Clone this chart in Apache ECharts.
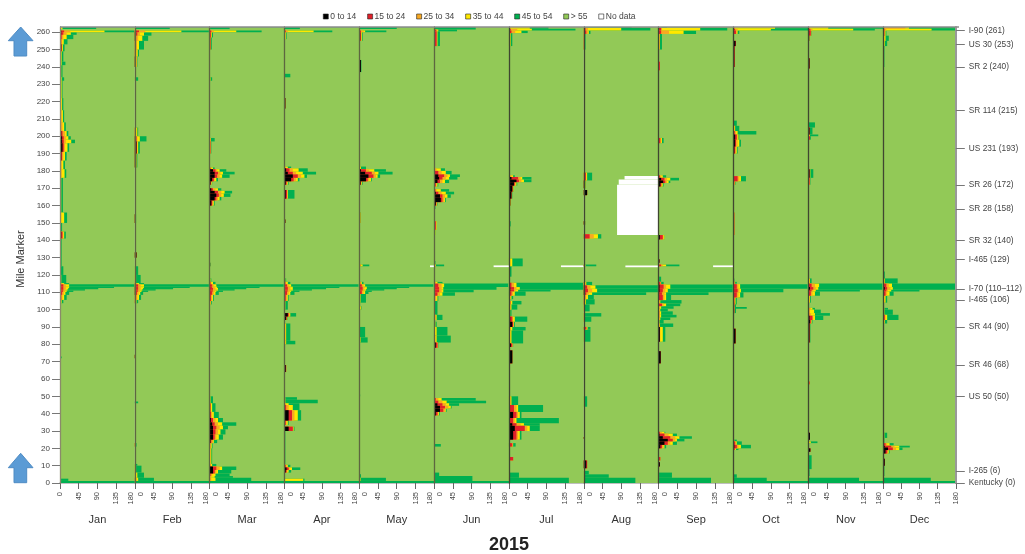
<!DOCTYPE html>
<html>
<head>
<meta charset="utf-8">
<title>Mile marker speed profile 2015</title>
<script src="https://cdn.jsdelivr.net/npm/echarts@6/dist/echarts.min.js"></script>
<style>html,body{margin:0;padding:0;background:#fff}#main{width:1025px;height:554px}</style>
</head>
<body>
<div id="main"></div>
<script>
var monthNames = ['Jan','Feb','Mar','Apr','May','Jun','Jul','Aug','Sep','Oct','Nov','Dec'];
var bandNames = ['0 to 14','15 to 24','25 to 34','35 to 44','45 to 54','> 55','No data'];
var bandColors = ['#000000','#e0202a','#f7a823','#ffe800','#00b050','#92c957','#ffffff'];
var mileTicks = [0,10,20,30,40,50,60,70,80,90,100,110,120,130,140,150,160,170,180,190,200,210,220,230,240,250,260];
var hourTicks = [0,45,90,135,180];
var roadMiles = [261,253,240,215,193,172,158,140,129,112,105.5,90,68,50,7,0];
var roadLabels = ['I-90 (261)','US 30 (253)','SR 2 (240)','SR 114 (215)','US 231 (193)','SR 26 (172)','SR 28 (158)','SR 32 (140)','I-465 (129)','I-70 (110–112)','I-465 (106)','SR 44 (90)','SR 46 (68)','US 50 (50)','I-265 (6)','Kentucky (0)'];
var mileTop = 263, hourMax = 180;

// each row: mile from, mile to, then how far each speed band reaches: black, red, orange, yellow, dark green
var jan = [[261.8,263,0,0,2,6,87],[262.8,263,0,0,0,0,178],[260,261,3,10,25,107,178],[258.5,260,3,8,16,26,40],[256,258.5,1,4,8,16,32],[253,256,1,3,5,9,18],[249,253,3,4,5,7,11],[243,249,0,1,2,4,8],[241,243,0,1,2,4,13],[234,241,0,1,2,3,6],[232,234,0,1,2,4,10],[222,232,0,1,2,4,6],[215,222,0,1,3,5,8],[208,215,0,1,4,7,10],[203,208,0,2,6,10,14],[200,203,3,6,12,16,20],[198,200,5,9,14,20,26],[196,198,5,9,14,27,36],[191,196,6,9,12,18,22],[186,191,3,5,8,12,16],[181,186,0,2,4,8,12],[176,181,0,1,4,11,15],[156,176,0,0,1,3,7],[150,156,0,1,3,10,17],[145,150,0,0,1,2,5],[141,145,3,6,8,10,14],[125,141,0,0,0,1,4],[120,125,0,0,0,2,8],[115.3,120,0,0,1,3,15],[114.6,115.3,0,2,5,10,22],[113.2,114.6,1,8,14,22,178],[112.5,113.2,1,8,14,22,130],[111.8,112.5,1,8,14,20,92],[111,111.8,1,8,13,18,60],[110.2,111,1,7,12,16,32],[108.5,110.2,1,5,9,13,22],[105.6,108.5,0,3,6,10,16],[103.7,105.6,0,1,2,4,8],[72,73,0,0,0,0,4],[1.2,2.5,0,0,0,0,20],[0,1.2,0,0,0,0,180]];
var feb = [[261.8,263,0,0,0,2,84],[262.8,263,0,0,0,0,178],[260,261,3,10,25,112,178],[258,260,2,6,12,22,40],[255,258,1,3,8,18,32],[250,255,0,1,5,10,22],[246,250,0,2,4,7,10],[240,246,2,3,4,5,6],[232,234,0,0,0,1,8],[200,205,0,1,3,6,8],[197,200,2,4,6,12,28],[190,197,4,5,6,8,12],[182,190,3,3,3,4,6],[150,155,1,1,1,2,3],[130,133,4,4,4,4,5],[120,125,0,0,0,1,8],[115.3,120,0,0,1,3,14],[114.6,115.3,0,2,5,10,22],[113.2,114.6,1,8,14,22,178],[112.5,113.2,1,8,14,22,132],[111.8,112.5,1,8,14,20,92],[111,111.8,1,8,13,18,50],[110.2,111,1,7,12,16,32],[108.5,110.2,1,5,9,13,20],[105.6,108.5,0,3,6,10,15],[103.7,105.6,0,1,2,4,8],[72,74,1,1,1,1,2],[46,47,0,0,0,0,8],[21,23,0,1,1,1,4],[10,11,0,0,0,1,6],[6,10,0,0,1,3,16],[3,6,0,0,2,6,22],[1.2,3,0,2,4,8,46],[0,1.2,0,0,0,0,180]];
var mar = [[261.8,263,0,0,0,1,48],[262.8,263,0,0,0,0,178],[260,261,0,4,10,64,125],[257,260,0,3,4,5,8],[250,257,1,2,2,3,5],[232,234,0,0,1,2,6],[197,199,0,1,2,3,12],[190,197,0,2,2,3,4],[181,182,0,2,4,8,12],[179.5,181,8,14,18,24,40],[178,179.5,12,20,26,32,60],[176,178,12,18,24,30,48],[174,176,6,10,12,16,20],[172,174,2,3,4,5,6],[168.5,170,4,8,14,20,28],[167,168.5,12,20,28,36,54],[165,167,16,22,28,34,50],[163,165,12,16,20,24,28],[160,163,4,6,8,10,12],[125,127,1,1,1,1,2],[116,118,0,0,1,2,4],[114.6,116,0,2,4,8,14],[113.2,114.6,1,6,10,16,178],[112.5,113.2,1,6,12,18,120],[111.8,112.5,1,8,14,20,88],[111,111.8,1,8,14,20,60],[110.2,111,1,7,12,16,32],[108.5,110.2,1,6,10,14,22],[105,108.5,0,3,6,8,10],[103,105,0,1,2,3,5],[46,50,0,0,0,2,8],[41,46,1,2,3,6,14],[37.5,41,1,3,6,10,22],[35,37.5,3,8,14,20,32],[33,35,6,12,20,30,64],[31,33,8,16,24,32,44],[28,31,8,14,20,26,38],[25,28,8,12,16,22,32],[23,25,2,4,8,10,18],[20,23,0,1,3,5,7],[11,20,0,0,2,4,6],[9.5,11,0,1,3,6,16],[7.5,9.5,8,16,24,30,64],[5.5,7.5,8,12,16,20,52],[4,5.5,0,2,6,14,48],[3,4,0,0,4,12,56],[1.2,3,0,0,4,14,100],[0,1.2,0,0,0,0,180]];
var apr = [[261.8,263,0,0,0,1,37],[262.8,263,0,0,0,0,178],[260,261,0,3,8,70,115],[256,260,0,1,2,3,5],[234,236,0,0,0,0,14],[216,222,2,2,2,2,3],[181.5,182.5,0,1,3,8,16],[179.5,181.5,4,12,20,34,56],[178,179.5,8,20,28,44,76],[176,178,20,32,40,48,54],[174,176,16,22,28,32,36],[172,174,3,5,6,8,10],[164,169,3,6,7,8,24],[150,152,2,2,2,2,3],[116,118,0,0,1,2,4],[114.6,116,0,2,4,8,14],[113.2,114.6,1,6,10,16,178],[112.5,113.2,1,8,14,20,132],[111.8,112.5,1,8,14,20,100],[111,111.8,1,8,14,20,66],[110.2,111,1,7,12,16,36],[108.5,110.2,1,6,10,14,24],[105,108.5,0,3,6,8,10],[100,105,0,0,1,2,8],[96,98,8,10,12,14,28],[94,96,4,5,6,7,8],[82,92,0,0,2,4,14],[80,82,0,1,2,4,26],[64,68,3,4,4,4,4],[48,49.5,0,0,0,2,30],[46,48,0,0,0,2,80],[45,46,0,1,4,10,36],[42,45,0,4,10,20,36],[36,42,10,18,24,32,40],[33.5,36,0,3,5,8,10],[30,32.5,10,20,21,22,24],[11,30,0,0,0,1,2],[9,10.5,0,3,5,8,14],[7.5,9,5,10,12,18,38],[6,7.5,3,5,7,10,16],[1.2,2.5,0,0,1,45,48],[0,1.2,0,0,0,0,180]];
var may = [[261.8,263,0,0,0,1,90],[262.8,263,0,0,0,0,178],[260,261,0,4,10,14,65],[255,260,2,4,5,6,8],[237,244,4,4,4,4,5],[181,182.5,0,1,2,4,16],[179.5,181,4,16,24,36,64],[178,179.5,14,30,38,46,80],[176,178,22,34,40,44,50],[174,176,16,20,24,28,30],[172,174,3,4,5,6,8],[150,156,0,2,2,3,4],[125,126,0,2,4,8,24],[114.6,116,0,2,4,6,10],[113.2,114.6,1,6,10,14,178],[112.5,113.2,1,8,14,18,120],[111.8,112.5,1,8,12,18,90],[111,111.8,1,8,12,16,60],[110.2,111,1,6,10,14,30],[109,110.2,1,6,10,14,22],[104,109,0,0,1,3,16],[100,102,0,1,2,4,5],[84,90,0,0,0,1,14],[81,84,0,1,2,3,20],[50,51,0,0,0,0,2],[3,5,0,0,0,1,4],[1.2,3,0,0,1,3,64],[0,1.2,0,0,0,0,180]];
var jun = [[261.5,263,0,0,0,1,100],[260.5,261.5,0,5,8,10,55],[252,260.5,1,6,7,8,14],[180,181.5,0,2,6,16,26],[178,180,2,10,18,28,42],[176.5,178,10,24,32,38,62],[175,176.5,12,20,28,36,56],[173,175,8,14,20,26,36],[171,173,2,4,6,8,10],[168,169.5,0,3,6,16,36],[166.5,168,4,10,18,28,48],[164.5,166.5,14,20,26,32,40],[162,164.5,16,20,24,26,28],[160,162,4,5,6,7,8],[158,160,1,1,2,2,3],[146,151,0,4,5,6,6],[143,146,0,1,2,3,3],[126,128,0,0,0,1,3],[125,126,0,2,3,4,24],[118,120,0,0,0,0,2],[115,116,0,2,4,8,20],[113,115,1,10,18,24,178],[111.5,113,2,12,18,22,150],[110,111.5,2,12,18,22,95],[108,110,1,8,14,20,50],[105,108,0,2,5,8,10],[97,105,0,0,1,2,8],[94,97,0,2,4,6,20],[90,93,0,1,2,3,6],[85,90,0,0,2,6,32],[81,85,0,1,3,6,40],[78,81,4,8,9,9,10],[47.5,49,0,4,10,18,100],[46,47.5,2,10,20,30,125],[44.5,46,8,20,28,36,60],[43,44.5,14,26,34,40,42],[41,43,14,22,26,28,30],[39,41,4,8,10,12,14],[21,22.5,0,0,0,2,16],[4,6,0,0,0,0,12],[1.2,4,0,0,0,1,92],[0,1.2,0,0,0,0,180]];
var jul = [[262,263,0,0,2,50,95],[261,262,0,4,20,55,160],[259.5,261,0,6,15,30,45],[252,259.5,0,2,3,4,8],[176.5,177.5,0,2,6,10,14],[175,176.5,6,22,28,32,54],[173.5,175,18,24,30,36,54],[171.5,173.5,12,14,16,18,20],[168,171.5,8,9,10,11,12],[164,168,6,6,7,7,8],[160,164,3,3,3,4,4],[148,151,0,0,1,2,4],[125,129.5,0,1,3,8,33],[119,125,0,0,0,1,6],[113,115.5,0,6,12,18,178],[111.5,113,3,12,18,26,178],[110.5,111.5,3,12,16,22,100],[108,110.5,1,6,10,14,40],[106,108,0,2,4,6,10],[103,105,0,3,5,8,30],[100,103,0,2,4,6,20],[96,100,0,0,1,3,6],[93,96,3,8,10,14,44],[90,93,8,10,11,12,14],[88,90,0,2,4,8,40],[80.5,88,0,2,3,6,34],[78.5,80.5,5,8,8,9,10],[69,76.5,8,8,8,8,9],[45,50,0,2,4,6,22],[41,45,0,12,18,22,82],[37.5,41,10,18,22,26,30],[34.5,37.5,0,10,14,18,120],[33,34.5,8,18,28,36,74],[30,33,14,38,44,50,74],[25,30,10,18,22,26,30],[21,23,2,8,9,10,16],[13,15,0,10,10,10,10],[3,6,0,0,0,1,24],[0,3,0,0,0,1,144]];
var aug = [[262.5,263,0,0,0,1,115],[261,262.5,0,4,10,90,160],[259,261,0,6,10,12,16],[250,259,0,1,1,1,4],[174.5,179,0,5,6,8,20],[170,174.5,1,3,3,4,5],[166,169,8,8,8,8,8],[149,151,3,3,3,3,3],[141,143.5,0,14,24,34,42],[125,126,0,2,3,4,30],[114,116,0,2,4,6,20],[112,114,2,8,16,28,178],[110,112,2,10,20,32,178],[108.5,110,1,6,12,20,150],[106,108.5,0,3,6,10,24],[103,106,0,1,3,5,26],[99,103,0,0,1,2,14],[96,98,0,0,1,3,42],[93,96,0,0,1,2,18],[88.5,90,0,6,8,9,16],[81.5,88.5,0,0,0,1,16],[44,50,0,0,0,1,8],[25.5,26.5,2,2,2,2,2],[8.5,13,6,8,8,8,8],[5,7,0,0,0,1,12],[3,5,0,0,0,1,60],[0,3,0,0,0,1,124]];
var sep = [[262.5,263,0,0,0,1,20],[261,262.5,0,6,8,100,165],[259,261,0,6,25,60,90],[250,259,0,1,2,3,8],[238,243,0,3,3,3,3],[196,199,0,4,6,8,12],[176,177.5,0,3,6,10,18],[174.5,176,6,14,20,28,49],[173,174.5,11,16,20,24,28],[171,173,4,6,8,10,12],[140.5,143,3,10,12,14,14],[127,129,2,2,2,2,3],[125,126,0,6,10,18,50],[116,119,0,0,0,1,6],[114.5,116,0,4,5,6,12],[112,114.5,2,12,18,28,178],[110,112,2,10,16,22,178],[108.5,110,1,8,14,18,120],[105.5,108.5,1,10,14,18,30],[103.5,105.5,0,1,2,4,55],[102,103.5,0,8,12,18,52],[100.5,102,0,1,2,6,36],[99,100.5,0,1,2,4,22],[97,99,0,1,3,6,34],[95.5,97,0,1,3,6,43],[94,95.5,0,1,2,4,28],[92,94,0,0,1,2,12],[90,92,0,1,2,3,35],[81.5,90,3,3,4,10,16],[69,76,5,5,5,5,5],[28.5,29.5,0,3,8,14,16],[27,28.5,2,14,24,34,44],[25.5,27,10,28,40,50,80],[24,25.5,22,34,40,44,62],[22,24,14,22,28,34,44],[20,22,4,8,12,14,18],[13,15,0,4,4,4,4],[9.5,12,3,3,3,3,3],[3,6,0,0,0,1,32],[0,3,0,0,0,1,126]];
var oct = [[262,263,0,0,4,100,180],[261,262,0,4,10,90,180],[259,261,0,6,8,10,14],[252,255,5,6,6,6,6],[240,252,2,3,3,3,3],[206,209,0,0,0,1,8],[203,206,0,1,2,4,14],[201,203,0,3,6,10,55],[198,201,4,8,10,12,14],[194,198,4,6,10,14,18],[190,194,2,4,6,8,10],[174,177,0,10,14,18,30],[172,174,0,2,3,4,5],[143,156,0,2,2,2,2],[116,118,0,0,0,0,2],[115,116,0,2,3,4,8],[112,114.7,1,8,12,16,178],[110,112,1,10,14,18,120],[107,110,1,8,12,16,24],[103,107,0,2,3,5,8],[100.5,101.5,0,1,1,2,32],[98,104,0,2,2,2,6],[80.5,89,5,5,5,5,5],[24,25,0,0,0,2,8],[22,24,0,4,6,8,20],[20,22,2,8,12,18,42],[19,20,0,3,4,6,12],[3,5,0,0,0,1,8],[1.2,3,0,0,1,1,80],[0,1.2,0,0,0,0,180]];
var nov = [[262,263,0,0,4,48,180],[261,262,0,5,10,108,160],[258,261,2,6,7,7,8],[255,258,2,2,2,3,4],[239,245,3,3,3,3,3],[205,208,0,0,0,1,16],[201,205,3,3,4,4,10],[200,201,0,1,2,4,24],[198,200,0,4,4,4,6],[176,181,3,3,4,5,12],[172,176,1,3,4,4,5],[164,172,0,1,1,1,1],[115,118,0,1,2,4,8],[113,115,1,8,16,26,178],[111.5,113,4,12,18,24,178],[110.5,111.5,2,8,12,18,124],[108,110.5,1,6,10,16,28],[104,108,0,1,2,4,6],[100,101,0,2,6,10,16],[98,100,0,1,4,14,30],[96.5,98,0,2,6,16,52],[94,96.5,3,10,12,16,36],[92,94,4,6,7,8,10],[81,92,3,3,4,4,5],[57,58.5,0,3,3,3,3],[25,29,4,4,4,4,4],[23,24,0,0,2,6,22],[18,20,5,5,5,5,5],[8,16,0,0,0,1,8],[4,8,0,0,0,0,3],[1.2,3,0,0,0,1,122],[0,1.2,0,0,0,0,180]];
var dec = [[262,263,0,0,55,64,180],[261,262,0,3,8,120,180],[258,261,0,3,4,6,8],[255,258,0,1,3,6,14],[252,255,0,0,2,4,10],[240,252,0,0,1,2,3],[231,236,2,2,2,2,2],[117,122,0,0,0,1,4],[115,118,0,1,2,4,36],[113,115,1,8,14,22,178],[111.5,113,4,10,18,24,178],[110.5,111.5,2,8,12,20,90],[108,110.5,1,6,10,16,26],[104,108,0,1,3,6,10],[100,101,0,0,1,3,12],[97,100,0,0,1,3,24],[94,97,0,4,6,10,38],[92,94,0,2,3,4,10],[86,88,2,2,2,2,2],[26,29,0,0,1,3,10],[23,26,0,0,0,1,3],[21.5,23,0,6,10,16,26],[20.5,21.5,4,20,28,40,66],[19,20.5,12,24,32,40,48],[17,19,6,10,12,14,16],[10,14,4,4,4,4,4],[4,10,0,0,0,1,3],[1.2,3,0,0,0,1,118],[0,1.2,0,0,1,2,180]];
var monthRows = [jan,feb,mar,apr,may,jun,jul,aug,sep,oct,nov,dec];

// gaps in the data: month index, mile from, mile to, hours from, hours to
var noData = [[4,124.5,125.5,170,180],[5,124.5,125.5,143,180],[6,124.5,125.5,125,180],[7,124.5,125.5,100,180],[8,124.5,125.5,131,180],[7,175,177,98,180],[7,172,175,84,180],[7,143,172,80,180]];

var myChart = echarts.init(document.getElementById('main'));

function drawBand(params, api) {
    var a = api.coord([api.value(2), api.value(1)]);
    var b = api.coord([api.value(3), api.value(0)]);
    return {
        type: 'rect',
        shape: {x: a[0], y: a[1], width: b[0] - a[0], height: b[1] - a[1]},
        style: {fill: api.visual('color')}
    };
}

var plotLeft = 60, plotWidth = 74.83, plotTop = 27, plotHeight = 456;
var grids = [], xAxes = [], yAxes = [], series = [];

monthNames.forEach(function (name, m) {
    grids.push({left: plotLeft + m * plotWidth, top: plotTop, width: plotWidth, height: plotHeight});
    xAxes.push({
        type: 'value', gridIndex: m, min: 0, max: hourMax, interval: 45,
        name: name, nameLocation: 'middle', nameGap: 31,
        nameTextStyle: {fontSize: 11, color: '#333', fontFamily: 'Liberation Sans'},
        splitLine: {show: false},
        axisLine: {lineStyle: {color: '#aaa', width: 1.5}},
        axisTick: {length: 6, lineStyle: {color: '#666'}},
        axisLabel: {
            rotate: 90, fontSize: 7.5, color: '#444', margin: 9, fontFamily: 'Liberation Sans',
            customValues: hourTicks,
            formatter: function (v) {
                if (v === 0 && m > 0) return '{zero|0}';
                if (v === hourMax && m < 11) return '{end|180}';
                return '' + v;
            },
            rich: {
                zero: {fontSize: 7.5, color: '#444', padding: [12, 0, 0, 0]},
                end: {fontSize: 7.5, color: '#444', padding: [0, 0, 8, 0]}
            }
        }
    });
    yAxes.push({
        type: 'value', gridIndex: m, min: 0, max: mileTop, z: 5,
        name: m === 0 ? 'Mile Marker' : '', nameLocation: 'middle', nameGap: 34,
        nameTextStyle: {fontSize: 11, color: '#333', fontFamily: 'Liberation Sans', padding: [0, 8, 0, 0]},
        splitLine: {show: false},
        axisLine: {lineStyle: {color: m === 0 ? '#8a8a6a' : m < 6 ? '#5d6640' : '#3f4630', width: 1.3}},
        axisTick: {show: m === 0, length: 8, customValues: mileTicks, lineStyle: {color: '#777'}},
        axisLabel: {show: m === 0, fontSize: 8, color: '#444', margin: 10, customValues: mileTicks, fontFamily: 'Liberation Sans'}
    });

    var rows = monthRows[m];
    series.push({
        name: bandNames[5], type: 'custom', xAxisIndex: m, yAxisIndex: m, renderItem: drawBand, silent: true,
        itemStyle: {color: bandColors[5]}, encode: {x: [2, 3], y: [0, 1]},
        data: [[0, mileTop, 0, hourMax]]
    });
    [4, 3, 2, 1, 0].forEach(function (b) {
        series.push({
            name: bandNames[b], type: 'custom', xAxisIndex: m, yAxisIndex: m, renderItem: drawBand, silent: true,
            itemStyle: {color: bandColors[b]}, encode: {x: [2, 3], y: [0, 1]},
            data: rows.filter(function (r) { return r[2 + b] > 0; }).map(function (r) { return [r[0], r[1], 0, r[2 + b]]; })
        });
    });
    series.push({
        name: bandNames[6], type: 'custom', xAxisIndex: m, yAxisIndex: m, renderItem: drawBand, silent: true,
        itemStyle: {color: bandColors[6]}, encode: {x: [2, 3], y: [0, 1]},
        data: noData.filter(function (r) { return r[0] === m; }).map(function (r) { return r.slice(1); })
    });
});

// road names down the right side
yAxes.push({
    type: 'value', gridIndex: 11, position: 'right', min: 0, max: mileTop, z: 5,
    splitLine: {show: false},
    axisLine: {show: true, lineStyle: {color: '#999', width: 2}},
    axisTick: {show: true, length: 9, customValues: roadMiles, lineStyle: {color: '#777'}},
    axisLabel: {
        fontSize: 8.3, color: '#444', margin: 13, customValues: roadMiles, fontFamily: 'Liberation Sans',
        formatter: function (v) { return roadLabels[roadMiles.indexOf(v)]; }
    }
});

function upArrow(top, head, bottom) {
    return {
        type: 'polygon', z: 10,
        shape: {points: [[20.7, top], [33, head], [26.7, head], [26.7, bottom], [14, bottom], [14, head], [8.3, head]]},
        style: {fill: '#5b9bd5', stroke: '#4f8cc4', lineWidth: 1}
    };
}

option = {
    backgroundColor: '#fff',
    animation: false,
    textStyle: {fontFamily: 'Liberation Sans'},
    title: {
        text: '2015', left: 504, top: 531, textAlign: 'center',
        textStyle: {fontSize: 18, fontWeight: 'bold', color: '#222', fontFamily: 'Liberation Sans'}
    },
    legend: {
        left: 318, top: 7, icon: 'rect', itemWidth: 5, itemHeight: 5, itemGap: 11,
        itemStyle: {borderColor: '#222', borderWidth: 0.6},
        textStyle: {fontSize: 8.5, color: '#444', padding: [0, 0, 0, -3]},
        data: bandNames, selectedMode: false
    },
    graphic: [
        upArrow(27, 40.7, 56),
        upArrow(453.3, 467.7, 482.7),
        {type: 'line', z: 10, shape: {x1: 60, y1: 27, x2: 959, y2: 27}, style: {stroke: '#8d8d8d', lineWidth: 1.5}}
    ],
    grid: grids,
    xAxis: xAxes,
    yAxis: yAxes,
    series: series
};

myChart.setOption(option);
</script>
</body>
</html>
